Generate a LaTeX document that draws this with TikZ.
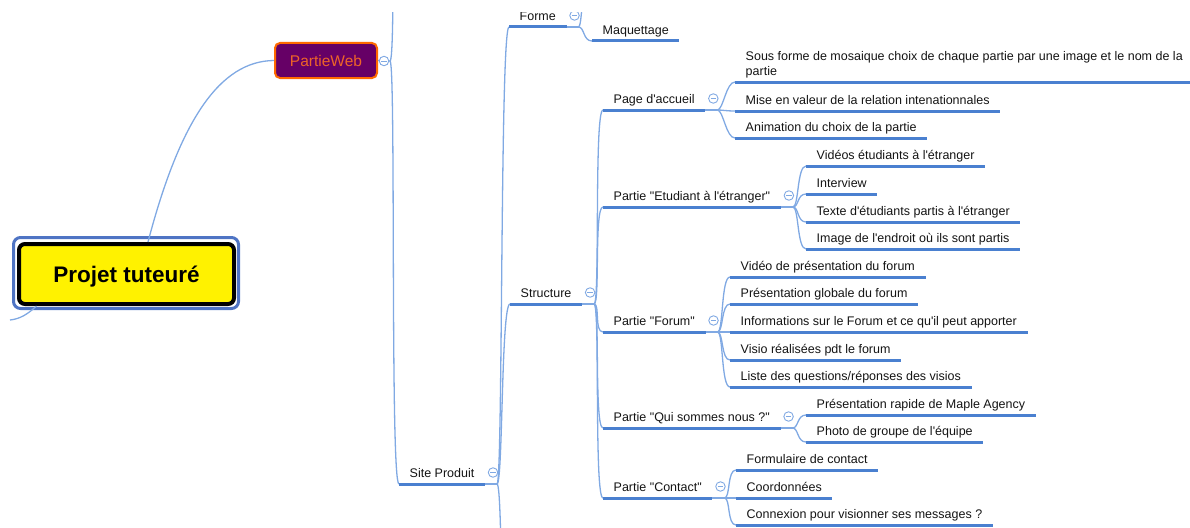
\documentclass[tikz,border=0pt]{standalone}
\usepackage{fontspec}
\setmainfont{Liberation Sans}[Ligatures=TeXOff]
\definecolor{uline}{HTML}{4A80D0}
\definecolor{wire}{HTML}{80A9E3}
\definecolor{webfill}{HTML}{660066}
\definecolor{webline}{HTML}{FF6A00}
\definecolor{webtext}{HTML}{EE6428}
\definecolor{rim}{HTML}{4F74C4}
\definecolor{ink}{RGB}{20,20,20}
\tikzset{
	topic/.style={anchor=south west, inner xsep=10.5pt, inner ysep=3.5pt, text height=9pt, text depth=3pt, text=ink, font=\fontsize{12.5}{15}\selectfont},
	fold/.style={circle, draw=wire, fill=white, line width=.9pt, minimum size=9.5pt, inner sep=0pt, path picture={\draw[wire, line width=.9pt]([xshift=2pt]path picture bounding box.west)--([xshift=-2pt]path picture bounding box.east);}},
	conn/.style={draw=wire, line width=1.3pt},
	uline/.style={draw=uline, line width=3pt},
	rimbox/.style={draw=rim, line width=3pt, rounded corners=7pt, minimum width=225pt, minimum height=71pt},
	rootbox/.style={draw=black, line width=4pt, fill=yellow, rounded corners=6pt, minimum width=215pt, minimum height=60pt, text height=16pt, text depth=0pt, font=\bfseries\fontsize{22.5}{27}\selectfont},
	webbox/.style={draw=webline, line width=2pt, fill=webfill, rounded corners=5pt, minimum width=102pt, minimum height=35pt, text=webtext, font=\fontsize{15.5}{18}\selectfont}
}
\begin{document}
\begin{tikzpicture}[x=1pt, y=-1pt]
	\useasboundingbox(0, 0)rectangle(1190, 527);
	\clip(0, 13)rectangle(1190, 527);
	\node[rimbox](rim)at(126, 273){};
	\node[rootbox](root)at(126.5, 274){Projet tuteuré};
	\node[webbox](web)at(326, 60.5){PartieWeb};
	\coordinate(leftout)at(10, 320);
	\draw[conn]([xshift=21.5pt]root.north)..controls(180, 120)and(220, 61)..(web.west);
	\draw[conn]([xshift=-90pt]root.south)..controls(28, 314)and(20, 319)..(leftout);
	\coordinate(jweb)at(390, 61);
	\coordinate(upout)at(399, -200);
	\coordinate(downout)at(509, 700);
	\coordinate(maqup)at(592, -100);
	\draw[conn](web.east)--(jweb);
	\node[fold](webo)at(384, 61){};
	\node[topic](site)at(399, 484){Site Produit};
	\node[topic](forme)at(509, 27){Forme};
	\node[topic](maq)at(592, 41){Maquettage};
	\node[topic](struct)at(510, 304){Structure};
	\node[topic](pg)at(603, 110){Page d'accueil};
	\node[topic](et)at(603, 207){Partie "Etudiant à l'étranger"};
	\node[topic](fo)at(603, 332){Partie "Forum"};
	\node[topic](qs)at(603, 428){Partie "Qui sommes nous ?"};
	\node[topic](ct)at(603, 498){Partie "Contact"};
	\node[topic, align=left](pg1)at(735, 82){Sous forme de mosaique choix de chaque partie par une image et le nom de la\\partie};
	\node[topic](pg2)at(735, 111){Mise en valeur de la relation intenationnales};
	\node[topic](pg3)at(735, 138){Animation du choix de la partie};
	\node[topic](et1)at(806, 166){Vidéos étudiants à l'étranger};
	\node[topic](et2)at(806, 194){Interview};
	\node[topic](et3)at(806, 222){Texte d'étudiants partis à l'étranger};
	\node[topic](et4)at(806, 249){Image de l'endroit où ils sont partis};
	\node[topic](fo1)at(730, 277){Vidéo de présentation du forum};
	\node[topic](fo2)at(730, 304){Présentation globale du forum};
	\node[topic](fo3)at(730, 332){Informations sur le Forum et ce qu'il peut apporter};
	\node[topic](fo4)at(730, 360){Visio réalisées pdt le forum};
	\node[topic](fo5)at(730, 387){Liste des questions/réponses des visios};
	\node[topic](qs1)at(806, 415){Présentation rapide de Maple Agency};
	\node[topic](qs2)at(806, 442){Photo de groupe de l'équipe};
	\node[topic](ct1)at(736, 470){Formulaire de contact};
	\node[topic](ct2)at(736, 498){Coordonnées};
	\node[topic](ct3)at(736, 525){Connexion pour visionner ses messages ?};
	\foreach \p in {site, forme, struct, pg, et, fo, qs, ct}{
		\draw[conn](\p.south east)--++(12, 0)coordinate(j\p);
		\node[fold](o\p)at([shift={(8, -11.5)}]\p.south east){};
	}
	\foreach \p/\c in {jweb/site.south west, jweb/upout, jsite/forme.south west, jsite/struct.south west, jsite/downout,
		jforme/maq.south west, jforme/maqup, jstruct/pg.south west, jstruct/et.south west, jstruct/fo.south west,
		jstruct/qs.south west, jstruct/ct.south west, jpg/pg1.south west, jpg/pg2.south west, jpg/pg3.south west,
		jet/et1.south west, jet/et2.south west, jet/et3.south west, jet/et4.south west,
		jfo/fo1.south west, jfo/fo2.south west, jfo/fo3.south west, jfo/fo4.south west, jfo/fo5.south west,
		jqs/qs1.south west, jqs/qs2.south west, jct/ct1.south west, jct/ct2.south west, jct/ct3.south west}
		\draw[conn](\p)..controls+(6, 0)and+(-9, 0)..(\c);
	\foreach \n in {site, forme, maq, struct, pg, et, fo, qs, ct, pg1, pg2, pg3, et1, et2, et3, et4,
		fo1, fo2, fo3, fo4, fo5, qs1, qs2, ct1, ct2, ct3}
		\draw[uline](\n.south west)--(\n.south east);
\end{tikzpicture}
\end{document}
